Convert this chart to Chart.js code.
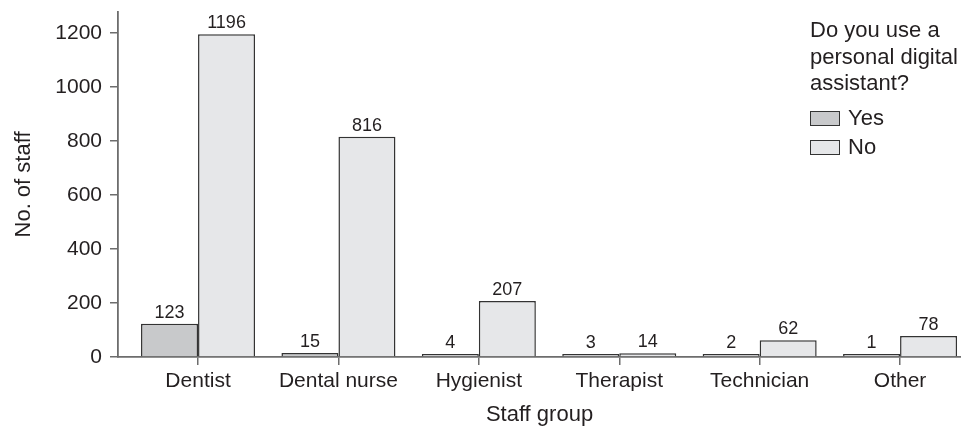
<!DOCTYPE html>
<html>
<head>
<meta charset="utf-8">
<script src="https://cdn.jsdelivr.net/npm/chart.js@4/dist/chart.umd.min.js"></script>
<style>
  html, body { margin: 0; padding: 0; background: #fff; overflow: hidden; }
  #wrap { position: relative; width: 961px; height: 428px; }
  #legend {
    position: absolute; left: 810px; top: 17px;
    font-family: "Liberation Sans", Arial, sans-serif; font-size: 22px;
    color: #231f20; line-height: 26.5px;
  }
  #legend .title { margin-bottom: 7px; }
  #legend .item { display: flex; align-items: center; height: 29px; }
  #legend .box { width: 28px; height: 13px; border: 1.2px solid #333; margin-right: 8px; }
</style>
</head>
<body>
<div id="wrap">
  <canvas id="chart" width="961" height="428"></canvas>
  <div id="legend"></div>
</div>
<script>
// Data
const categories = ['Dentist', 'Dental nurse', 'Hygienist', 'Therapist', 'Technician', 'Other'];
const yesValues = [123, 15, 4, 3, 2, 1];
const noValues = [1196, 816, 207, 14, 62, 78];
const yTicks = [0, 200, 400, 600, 800, 1000, 1200];
const seriesNames = ['Yes', 'No'];
const legendTitle = ['Do you use a', 'personal digital', 'assistant?'];

const FONT = '"Liberation Sans", Arial, sans-serif';
const TEXT = '#231f20';
const AXIS = '#6d6d6d';

// bar labels above each bar
const valueLabels = {
  id: 'valueLabels',
  afterDatasetsDraw(chart) {
    const ctx = chart.ctx;
    ctx.save();
    ctx.font = '18px ' + FONT;
    ctx.fillStyle = TEXT;
    ctx.textAlign = 'center';
    ctx.textBaseline = 'bottom';
    chart.data.datasets.forEach((ds, di) => {
      chart.getDatasetMeta(di).data.forEach((bar, i) => {
        ctx.fillText(ds.data[i].y, bar.x, bar.y - 2);
      });
    });
    ctx.restore();
  }
};

const toPoints = (vals) => vals.map((v, i) => ({ x: i, y: v }));

const chart = new Chart(document.getElementById('chart'), {
  type: 'bar',
  data: {
    datasets: [
      {
        label: seriesNames[0],
        data: toPoints(yesValues),
        backgroundColor: '#c8c9cb',
        borderColor: '#333',
        borderWidth: 1.5,
        minBarLength: 3
      },
      {
        label: seriesNames[1],
        data: toPoints(noValues),
        backgroundColor: '#e6e7e9',
        borderColor: '#333',
        borderWidth: 1.5,
        minBarLength: 3
      }
    ]
  },
  options: {
    responsive: false,
    animation: false,
    categoryPercentage: 0.812,
    barPercentage: 1.0,
    layout: { padding: { top: 12, right: 0, left: 0, bottom: 0 } },
    plugins: {
      legend: { display: false },
      tooltip: { enabled: false }
    },
    scales: {
      x: {
        type: 'linear',
        offset: false,
        min: -0.57,
        max: 5.434,
        afterBuildTicks: (scale) => {
          scale.ticks = categories.map((c, i) => ({ value: i }));
        },
        afterFit: (scale) => {
          scale.height = 71;
          scale.paddingLeft = 0;
          scale.paddingRight = 0;
        },
        grid: {
          offset: false,
          drawOnChartArea: false,
          color: AXIS,
          lineWidth: 1.5,
          tickLength: 8
        },
        border: { color: AXIS, width: 1.8 },
        ticks: {
          color: TEXT,
          font: { family: FONT, size: 21 },
          padding: 4,
          maxRotation: 0,
          autoSkip: false,
          callback: (v) => categories[v]
        },
        title: {
          display: true,
          text: 'Staff group',
          color: TEXT,
          font: { family: FONT, size: 22 },
          padding: { top: 0, bottom: 0 }
        }
      },
      y: {
        min: 0,
        max: 1278,
        afterBuildTicks: (scale) => {
          scale.ticks = yTicks.map((v) => ({ value: v }));
        },
        afterFit: (scale) => {
          scale.width = 118;
          scale.paddingTop = 0;
          scale.paddingBottom = 0;
        },
        grid: {
          drawOnChartArea: false,
          color: AXIS,
          lineWidth: 1.5,
          tickLength: 8
        },
        border: { color: AXIS, width: 1.8 },
        ticks: {
          color: TEXT,
          font: { family: FONT, size: 21 },
          padding: 8,
          callback: (v) => String(v)
        },
        title: {
          display: true,
          text: 'No. of staff',
          color: TEXT,
          font: { family: FONT, size: 22 },
          padding: { top: 11, bottom: 0 }
        }
      }
    }
  },
  plugins: [valueLabels]
});

// HTML legend
const legend = document.getElementById('legend');
legend.innerHTML = '<div class="title">' + legendTitle.join('<br>') + '</div>' +
  chart.data.datasets.map((ds) =>
    '<div class="item"><span class="box" style="background:' + ds.backgroundColor + '"></span>' + ds.label + '</div>'
  ).join('');
</script>
</body>
</html>
